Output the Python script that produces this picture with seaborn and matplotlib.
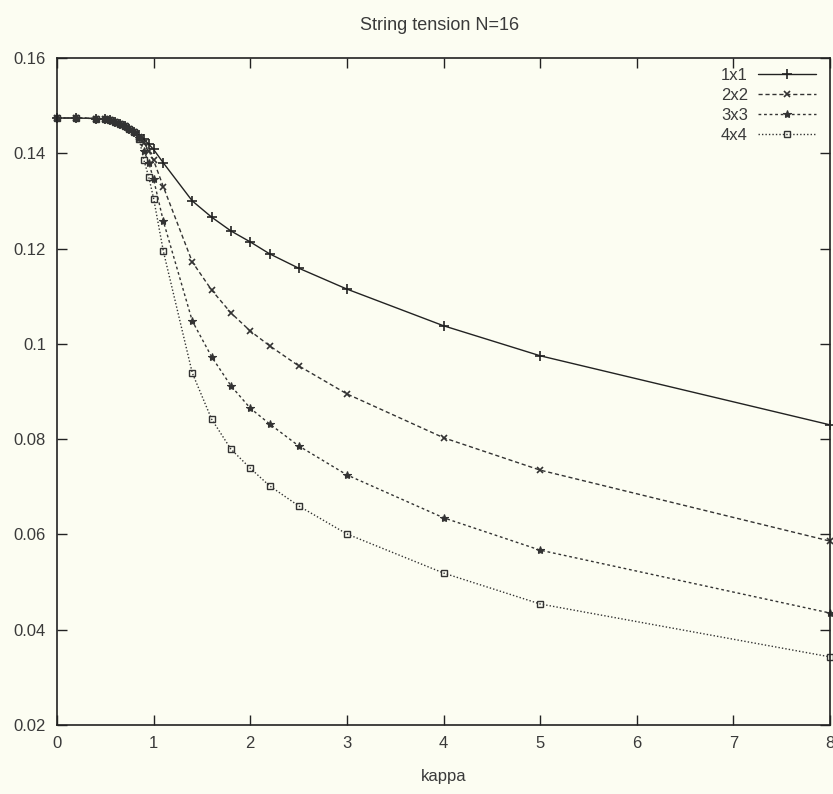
import matplotlib
matplotlib.use("Agg")
import matplotlib.pyplot as plt
import seaborn as sns
import pandas as pd
import numpy as np

kappa = [0, 0.2, 0.4, 0.5, 0.55, 0.6, 0.65, 0.7, 0.75, 0.8, 0.85, 0.9, 0.95, 1.0, 1.1,
         1.4, 1.6, 1.8, 2.0, 2.2, 2.5, 3, 4, 5, 8]
common = [0.1474, 0.1474, 0.1473, 0.1471, 0.1469, 0.1466, 0.1462, 0.1458, 0.1452, 0.1445]
t1x1 = common + [0.1438, 0.1429, 0.1419, 0.1408, 0.1380,
                 0.1300, 0.1266, 0.1237, 0.1214, 0.1189, 0.1159, 0.1115, 0.1038, 0.0975, 0.0830]
t2x2 = common + [0.1435, 0.1422, 0.1405, 0.1385, 0.1330,
                 0.1172, 0.1113, 0.1065, 0.1027, 0.0996, 0.0954, 0.0895, 0.0803, 0.0735, 0.0586]
t3x3 = common + [0.1432, 0.1405, 0.1380, 0.1345, 0.1258,
                 0.1048, 0.0973, 0.0912, 0.0865, 0.0832, 0.0786, 0.0725, 0.0635, 0.0567, 0.0435]
t4x4 = common + [0.1430, 0.1385, 0.1350, 0.1305, 0.1195,
                 0.0939, 0.0842, 0.0779, 0.0739, 0.0702, 0.0660, 0.0601, 0.0519, 0.0454, 0.0343]
labels = ["1x1", "2x2", "3x3", "4x4"]
series = [t1x1, t2x2, t3x3, t4x4]
xticks = [0, 1, 2, 3, 4, 5, 6, 7, 8]
yticks = [0.02, 0.04, 0.06, 0.08, 0.1, 0.12, 0.14, 0.16]
ytick_labels = ["0.02", "0.04", "0.06", "0.08", "0.1", "0.12", "0.14", "0.16"]

sns.set_style("ticks")
bg = "#fcfdf2"
plt.rcParams['font.family'] = ['Liberation Sans', 'DejaVu Sans']
tc = "#3a3a3a"

fig = plt.figure(figsize=(8.33, 7.94), dpi=100, facecolor=bg)
ax = fig.add_axes([57/833, 1-725/794, 773/833, 667/794])
ax.set_facecolor(bg)

styles = [
    dict(linestyle="-", marker="+", markersize=7, mew=1.2, color="#222222", mfc="#222222"),
    dict(linestyle=(0, (3, 2)), marker="x", markersize=4.5, mew=1.2, color="#333333", mfc="#333333"),
    dict(linestyle=(0, (2, 2)), marker="*", markersize=6, mew=0.8, color="#333333", mfc="#333333"),
    dict(linestyle=(0, (1, 1.5)), marker="s", markersize=5, mew=1.0, color="#333333", mfc="none"),
]

rows = []
for lab, vals in zip(labels, series):
    for k, v in zip(kappa, vals):
        rows.append({"kappa": k, "tension": v, "size": lab})
df = pd.DataFrame(rows)

for lab, st in zip(labels, styles):
    sub = df[df["size"] == lab]
    sns.lineplot(data=sub, x="kappa", y="tension", ax=ax, label=lab, lw=1.0,
                 linestyle=st["linestyle"], marker=st["marker"], markersize=st["markersize"],
                 markeredgewidth=st["mew"], color=st["color"], markerfacecolor=st["mfc"],
                 markeredgecolor=st["color"], clip_on=False)

ax.set_xlim(0, 8)
ax.set_ylim(0.02, 0.16)
ax.set_xticks(xticks)
ax.set_xticklabels([str(t) for t in xticks])
ax.set_yticks(yticks)
ax.set_yticklabels(ytick_labels)
ax.tick_params(direction="in", top=True, right=True, length=7, width=1, labelsize=12,
               labelcolor=tc, color="#222222", pad=8)
for s in ax.spines.values():
    s.set_color("#222222")
    s.set_linewidth(1.2)

ax.set_xlabel("kappa", fontsize=12, color=tc, labelpad=13)
ax.set_ylabel("")
fig.text(440/833, 1-25/794, "String tension N=16", ha="center", va="center", fontsize=13, color=tc)

leg = ax.legend(loc="upper right", frameon=False, markerfirst=False, fontsize=12,
                handlelength=3.5, handletextpad=0.6, labelspacing=0.3,
                bbox_to_anchor=(0.995, 1.0), borderaxespad=0.2)
for t in leg.get_texts():
    t.set_color(tc)

fig.savefig("out.png", dpi=100, facecolor=bg)
